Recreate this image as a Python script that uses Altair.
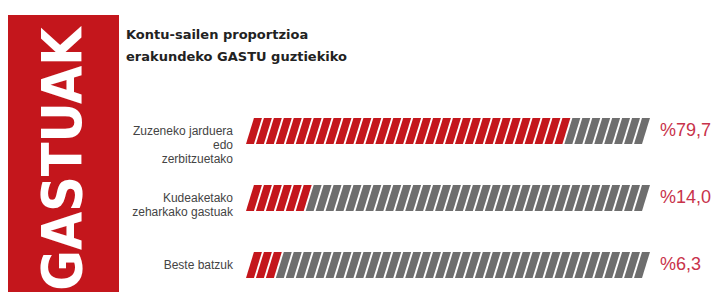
import altair as alt
import pandas as pd

# ---- data ----
categories = ["Zuzeneko jarduera\nedo\nzerbitzuetako", "Kudeaketako\nzeharkako gastuak", "Beste batzuk"]
values = [79.7, 14.0, 6.3]
value_labels = ["%79,7", "%14,0", "%6,3"]
title_lines = ["Kontu-sailen proportzioa", "erakundeko GASTU guztiekiko"]
side_label = ["GASTUAK"]

RED = "#c4161c"
GRAY = "#6e6e6e"

# stripe geometry (in % units of the bar)
N_STRIPES = 40
PERIOD = 2.5
SW = 2.0    # stripe width
SL = 2.0    # slant offset
HALF = 0.195

rows = []
for r, (cat, v) in enumerate(zip(categories, values)):
    for i in range(N_STRIPES):
        x0 = i * PERIOD
        col = "red" if x0 + SW * 0.6 < v else "gray"
        sid = f"{r}-{i}"
        rows.append(dict(sid=sid, row=r + HALF, x=x0, x2=x0 + SW, c=col))
        rows.append(dict(sid=sid, row=r - HALF, x=x0 + SL, x2=x0 + SL + SW, c=col))
stripes = pd.DataFrame(rows)

xscale = alt.Scale(domain=[0, 100], range=[237, 635])
yscale = alt.Scale(domain=[0, 2], range=[123, 257])

W, H = 708, 284

band = alt.Chart(pd.DataFrame({"a": [1]})).mark_rect(color=RED).encode(
    x=alt.value(-1), x2=alt.value(110), y=alt.value(7), y2=alt.value(H)
)

side = alt.Chart(pd.DataFrame({"t": side_label})).mark_text(
    angle=270, color="white", font="'Liberation Sans Narrow', 'DejaVu Sans Condensed', sans-serif",
    fontWeight="bold", fontSize=55, align="center", baseline="middle"
).encode(text="t:N", x=alt.value(55), y=alt.value(151))

title = alt.Chart(pd.DataFrame({"t": ["\n".join(title_lines)]})).mark_text(
    align="left", baseline="top", font="DejaVu Sans", fontWeight="bold",
    fontSize=13, color="#222222", lineBreak="\n", lineHeight=22
).encode(
    text="t:N",
    x=alt.value(117),
    y=alt.value(21),
)

bars = alt.Chart(stripes).mark_area(orient="horizontal").encode(
    y=alt.Y("row:Q", scale=yscale, axis=None),
    x=alt.X("x:Q", scale=xscale, axis=None),
    x2="x2:Q",
    detail="sid:N",
    color=alt.Color("c:N", scale=alt.Scale(domain=["red", "gray"], range=[RED, GRAY]), legend=None),
)

lab = pd.DataFrame({"cat": categories, "row": [0, 1, 2], "v": values, "vl": value_labels})

cat_text = alt.Chart(lab).mark_text(
    align="right", baseline="middle", font="Liberation Sans", fontSize=12,
    color="#444444", lineBreak="\n", lineHeight=14
).encode(
    text="cat:N",
    x=alt.value(224),
    y=alt.Y("row:Q", scale=yscale, axis=None),
)

val_text = alt.Chart(lab).mark_text(
    align="left", baseline="middle", font="Liberation Sans", fontSize=18,
    color="#c8324a"
).encode(
    text="vl:N",
    x=alt.value(651),
    y=alt.Y("row:Q", scale=yscale, axis=None),
)

chart = alt.layer(band, side, title, bars, cat_text, val_text).properties(
    width=W, height=H,
    autosize=alt.AutoSizeParams(type="fit", contains="padding"),
    padding=0,
    background="white",
).configure_view(stroke=None)

chart.save("out.html", embed_options={"renderer": "svg", "actions": False})
